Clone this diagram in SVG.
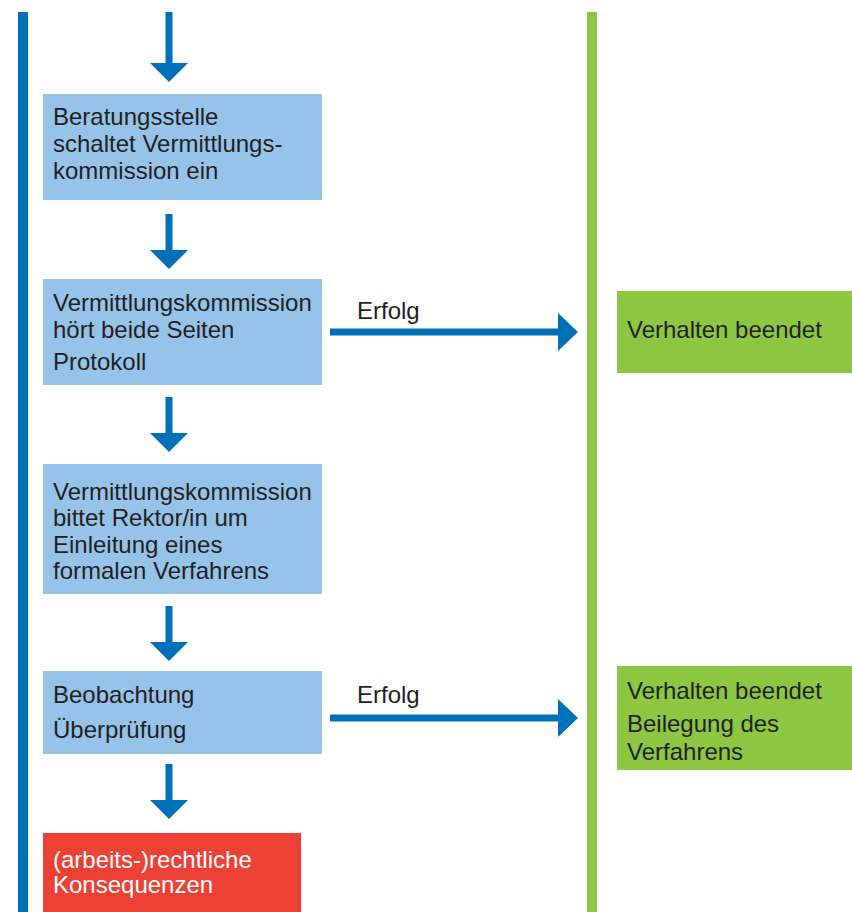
<svg xmlns="http://www.w3.org/2000/svg" width="852" height="912" viewBox="0 0 852 912">
<style>
text{font-family:"Liberation Sans",Arial,sans-serif;font-size:24px;fill:#231f20}
.box{fill:#95c3ea}
.ok{fill:#8dc641}
.red{fill:#ee4136}
.w{fill:#ffffff}
.ar{fill:#0070b8}
</style>
<rect x="18" y="12" width="10" height="900" fill="#0070b8"/>
<rect x="587" y="12" width="10" height="900" fill="#8dc641"/>
<g id="connectors">
<path class="ar" d="M165.5 12H172.5V63H188L169 82L150 63H165.5Z"/>
<path class="ar" d="M165.5 214H172.5V250H188L169 269L150 250H165.5Z"/>
<path class="ar" d="M165.5 397H172.5V433H188L169 452L150 433H165.5Z"/>
<path class="ar" d="M165.5 606H172.5V642H188L169 661L150 642H165.5Z"/>
<path class="ar" d="M165.5 764H172.5V800H188L169 819L150 800H165.5Z"/>
<path class="ar" d="M330 328.5H558V313L578 332L558 351V335.5H330Z"/>
<text x="357" y="319">Erfolg</text>
<path class="ar" d="M330 714.5H558V699L578 718L558 737V721.5H330Z"/>
<text x="357" y="703">Erfolg</text>
</g>
<g id="n1">
<rect class="box" x="43" y="94" width="279" height="106"/>
<text x="53" y="125">Beratungsstelle</text>
<text x="53" y="152">schaltet Vermittlungs-</text>
<text x="53" y="179">kommission ein</text>
</g>
<g id="n2">
<rect class="box" x="43" y="279" width="279" height="106"/>
<text x="53" y="311">Vermittlungskommission</text>
<text x="53" y="338">hört beide Seiten</text>
<text x="53" y="370">Protokoll</text>
</g>
<g id="n3">
<rect class="box" x="43" y="464" width="279" height="130"/>
<text x="53" y="500">Vermittlungskommission</text>
<text x="53" y="526">bittet Rektor/in um</text>
<text x="53" y="553">Einleitung eines</text>
<text x="53" y="579">formalen Verfahrens</text>
</g>
<g id="n4">
<rect class="box" x="43" y="671" width="279" height="83"/>
<text x="53" y="703">Beobachtung</text>
<text x="53" y="738">Überprüfung</text>
</g>
<g id="n5">
<rect class="red" x="43" y="833" width="258" height="79"/>
<text class="w" x="53" y="868">(arbeits-)rechtliche</text>
<text class="w" x="53" y="893">Konsequenzen</text>
</g>
<g id="g1">
<rect class="ok" x="617" y="291" width="235" height="82"/>
<text x="627" y="338">Verhalten beendet</text>
</g>
<g id="g2">
<rect class="ok" x="617" y="666" width="235" height="104"/>
<text x="627" y="699">Verhalten beendet</text>
<text x="627" y="732">Beilegung des</text>
<text x="627" y="760">Verfahrens</text>
</g>
</svg>
